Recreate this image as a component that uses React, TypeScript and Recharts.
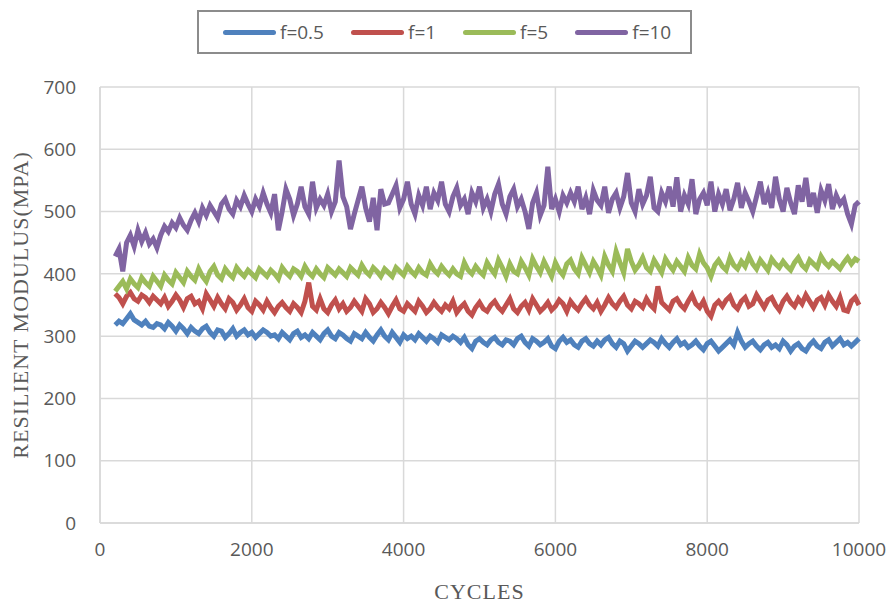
import React from 'react';
import { LineChart, Line, XAxis, YAxis, CartesianGrid, Legend } from 'recharts';

const cycles = [
  200, 250, 300, 350, 400, 450, 500, 550, 600, 650, 700, 750, 800, 850, 900, 950, 1000, 1050, 1100, 1150,
  1200, 1250, 1300, 1350, 1400, 1450, 1500, 1550, 1600, 1650, 1700, 1750, 1800, 1850, 1900, 1950, 2000, 2050, 2100, 2150,
  2200, 2250, 2300, 2350, 2400, 2450, 2500, 2550, 2600, 2650, 2700, 2750, 2800, 2850, 2900, 2950, 3000, 3050, 3100, 3150,
  3200, 3250, 3300, 3350, 3400, 3450, 3500, 3550, 3600, 3650, 3700, 3750, 3800, 3850, 3900, 3950, 4000, 4050, 4100, 4150,
  4200, 4250, 4300, 4350, 4400, 4450, 4500, 4550, 4600, 4650, 4700, 4750, 4800, 4850, 4900, 4950, 5000, 5050, 5100, 5150,
  5200, 5250, 5300, 5350, 5400, 5450, 5500, 5550, 5600, 5650, 5700, 5750, 5800, 5850, 5900, 5950, 6000, 6050, 6100, 6150,
  6200, 6250, 6300, 6350, 6400, 6450, 6500, 6550, 6600, 6650, 6700, 6750, 6800, 6850, 6900, 6950, 7000, 7050, 7100, 7150,
  7200, 7250, 7300, 7350, 7400, 7450, 7500, 7550, 7600, 7650, 7700, 7750, 7800, 7850, 7900, 7950, 8000, 8050, 8100, 8150,
  8200, 8250, 8300, 8350, 8400, 8450, 8500, 8550, 8600, 8650, 8700, 8750, 8800, 8850, 8900, 8950, 9000, 9050, 9100, 9150,
  9200, 9250, 9300, 9350, 9400, 9450, 9500, 9550, 9600, 9650, 9700, 9750, 9800, 9850, 9900, 9950, 10000
];

// f = 0.5
const f05 = [
  318, 324, 320, 328, 336, 326, 322, 318, 324, 316, 314, 320, 318, 312, 322, 316, 308, 318, 312, 304,
  314, 308, 304, 312, 316, 306, 300, 310, 308, 298, 304, 312, 300, 306, 310, 302, 306, 298, 304, 310,
  306, 300, 302, 296, 306, 300, 294, 304, 308, 298, 302, 296, 306, 300, 294, 304, 310, 300, 296, 306,
  302, 296, 292, 304, 300, 296, 306, 298, 292, 302, 310, 300, 294, 306, 298, 290, 302, 296, 300, 294,
  304, 298, 292, 300, 296, 290, 302, 298, 294, 300, 296, 290, 298, 286, 280, 292, 296, 290, 286, 294,
  298, 290, 286, 294, 292, 286, 296, 300, 290, 284, 296, 292, 286, 290, 296, 284, 280, 292, 298, 290,
  294, 286, 282, 292, 296, 288, 284, 292, 286, 294, 298, 288, 282, 292, 288, 276, 284, 292, 288, 282,
  288, 294, 290, 284, 296, 288, 282, 290, 296, 286, 290, 282, 286, 292, 284, 278, 288, 292, 284, 276,
  282, 288, 294, 286, 306, 292, 282, 288, 292, 284, 278, 286, 290, 282, 286, 280, 292, 286, 276, 284,
  288, 280, 276, 286, 292, 284, 280, 290, 294, 284, 290, 296, 286, 290, 284, 290, 296
];

// f = 1
const f1 = [
  368, 362, 352, 364, 370, 360, 356, 366, 362, 354, 364, 358, 352, 362, 348, 356, 366, 358, 346, 360,
  364, 352, 356, 344, 368, 358, 348, 362, 352, 344, 360, 354, 342, 350, 360, 346, 340, 356, 350, 342,
  356, 346, 338, 348, 354, 346, 340, 352, 346, 338, 356, 386, 348, 342, 360, 344, 338, 350, 358, 344,
  352, 340, 346, 356, 348, 340, 360, 352, 338, 344, 354, 346, 336, 348, 358, 344, 340, 352, 346, 340,
  356, 348, 338, 344, 354, 346, 340, 350, 344, 356, 338, 346, 352, 340, 334, 346, 354, 344, 340, 350,
  356, 346, 340, 350, 360, 344, 338, 348, 354, 342, 360, 350, 340, 346, 354, 342, 348, 358, 352, 340,
  356, 348, 342, 352, 360, 350, 344, 354, 340, 350, 362, 352, 346, 356, 364, 350, 344, 356, 352, 346,
  360, 350, 344, 380, 354, 348, 342, 356, 360, 350, 344, 356, 366, 352, 346, 356, 340, 332, 350, 356,
  348, 358, 364, 350, 344, 356, 362, 348, 352, 366, 356, 346, 358, 362, 350, 342, 356, 364, 354, 348,
  360, 352, 366, 356, 346, 358, 362, 350, 366, 356, 348, 362, 342, 340, 356, 362, 350
];

// f = 5
const f5 = [
  372, 380, 388, 376, 392, 384, 378, 394, 386, 380, 396, 388, 380, 398, 390, 384, 402, 394, 386, 404,
  396, 390, 408, 396, 388, 404, 412, 398, 392, 408, 400, 394, 410, 402, 396, 406, 400, 394, 408, 402,
  396, 406, 400, 392, 410, 402, 396, 408, 404, 396, 412, 402, 396, 408, 400, 394, 410, 404, 398, 408,
  402, 396, 410, 404, 398, 414, 404, 398, 410, 404, 396, 408, 402, 396, 410, 404, 398, 412, 404, 398,
  410, 402, 398, 416, 406, 400, 412, 404, 398, 408, 400, 396, 418, 406, 400, 412, 404, 398, 418, 408,
  400, 422, 410, 396, 416, 404, 400, 420, 410, 398, 424, 412, 402, 420, 408, 396, 418, 406, 398, 416,
  422, 408, 400, 426, 414, 402, 420, 410, 398, 428, 414, 404, 436, 418, 402, 440, 420, 406, 414, 426,
  410, 404, 422, 412, 402, 424, 414, 406, 420, 412, 404, 426, 414, 408, 432, 418, 410, 396, 414, 422,
  412, 406, 426, 414, 408, 420, 412, 428, 416, 408, 422, 414, 406, 424, 416, 410, 420, 412, 406, 418,
  426, 414, 408, 422, 416, 410, 428, 418, 412, 420, 414, 408, 418, 426, 416, 424, 420
];

// f = 10
const f10 = [
  428, 440, 404, 450, 462, 444, 470, 452, 466, 448, 456, 442, 462, 476, 468, 482, 474, 490, 478, 470,
  486, 498, 484, 506, 494, 510, 500, 490, 512, 520, 504, 496, 518, 508, 526, 512, 500, 520, 508, 530,
  512, 498, 528, 470, 500, 536, 520, 494, 512, 540, 508, 496, 548, 506, 520, 510, 528, 500, 516, 582,
  524, 508, 472, 496, 518, 540, 506, 484, 522, 470, 536, 512, 514, 528, 542, 506, 520, 548, 512, 496,
  526, 510, 540, 504, 530, 518, 548, 512, 500, 524, 538, 510, 520, 496, 530, 516, 540, 506, 520, 500,
  528, 544, 512, 496, 524, 536, 508, 520, 500, 472, 514, 530, 494, 510, 572, 504, 520, 500, 526, 514,
  530, 516, 540, 504, 522, 496, 534, 518, 510, 540, 498, 520, 530, 506, 524, 562, 514, 500, 536, 512,
  526, 556, 506, 500, 530, 516, 540, 508, 555, 500, 526, 512, 552, 496, 520, 530, 510, 548, 500, 528,
  512, 536, 502, 520, 546, 506, 530, 516, 500, 524, 548, 512, 530, 506, 556, 520, 500, 538, 514, 496,
  542, 516, 554, 508, 530, 498, 534, 518, 544, 504, 526, 512, 520, 496, 480, 510, 516
];

const xTicks = [0, 2000, 4000, 6000, 8000, 10000];
const yTicks = [0, 100, 200, 300, 400, 500, 600, 700];

const series = [
  { key: 'f05', name: 'f=0.5', color: '#4f81bd' },
  { key: 'f1', name: 'f=1', color: '#c0504d' },
  { key: 'f5', name: 'f=5', color: '#9bbb59' },
  { key: 'f10', name: 'f=10', color: '#8064a2' }
];

const data = cycles.map((c, i) => ({ cycle: c, f05: f05[i], f1: f1[i], f5: f5[i], f10: f10[i] }));

const tickStyle = { fontSize: 19, fill: '#595959', fontFamily: '"Open Sans", sans-serif' };
const titleStyle = { fontSize: 22, letterSpacing: 1, fill: '#595959', fontFamily: '"Liberation Serif", serif' };

const LegendBox = () => (
  <div
    style={{
      boxSizing: 'border-box',
      width: 495,
      height: 44,
      border: '2px solid #8c8c8c',
      display: 'flex',
      alignItems: 'center',
      paddingLeft: 24,
      fontFamily: '"Open Sans", sans-serif',
      fontSize: 19,
      color: '#595959'
    }}
  >
    {series.map(s => (
      <div key={s.key} style={{ display: 'flex', alignItems: 'center', marginRight: 27 }}>
        <div style={{ width: 53, height: 5, borderRadius: 3, background: s.color, marginRight: 4 }} />
        <span>{s.name}</span>
      </div>
    ))}
  </div>
);

export default function App() {
  return (
    <div style={{ position: 'absolute', left: 0, top: 0, background: '#fff' }}>
      <LineChart width={889} height={605} data={data} margin={{ top: 43, right: 30, bottom: 22, left: 0 }}>
        <CartesianGrid stroke="#d9d9d9" strokeWidth={1.5} />
        <XAxis
          dataKey="cycle"
          type="number"
          domain={[0, 10000]}
          ticks={xTicks}
          height={60}
          tickLine={false}
          axisLine={{ stroke: '#d9d9d9', strokeWidth: 1.5 }}
          tick={tickStyle}
          tickMargin={14}
          label={{ value: 'CYCLES', position: 'insideBottom', offset: -16, style: titleStyle }}
        />
        <YAxis
          type="number"
          domain={[0, 700]}
          ticks={yTicks}
          width={100}
          tickLine={false}
          axisLine={{ stroke: '#d9d9d9', strokeWidth: 1.5 }}
          tick={tickStyle}
          tickMargin={18}
          label={{ value: 'RESILIENT MODULUS(MPA)', angle: -90, position: 'insideLeft', offset: 20, style: { ...titleStyle, textAnchor: 'middle' } }}
        />
        <Legend
          verticalAlign="top"
          content={<LegendBox />}
          wrapperStyle={{ position: 'absolute', top: 10, left: 197, width: 495, height: 44 }}
        />
        {series.map(s => (
          <Line
            key={s.key}
            type="linear"
            dataKey={s.key}
            name={s.name}
            stroke={s.color}
            strokeWidth={5}
            dot={false}
            isAnimationActive={false}
          />
        ))}
      </LineChart>
    </div>
  );
}
